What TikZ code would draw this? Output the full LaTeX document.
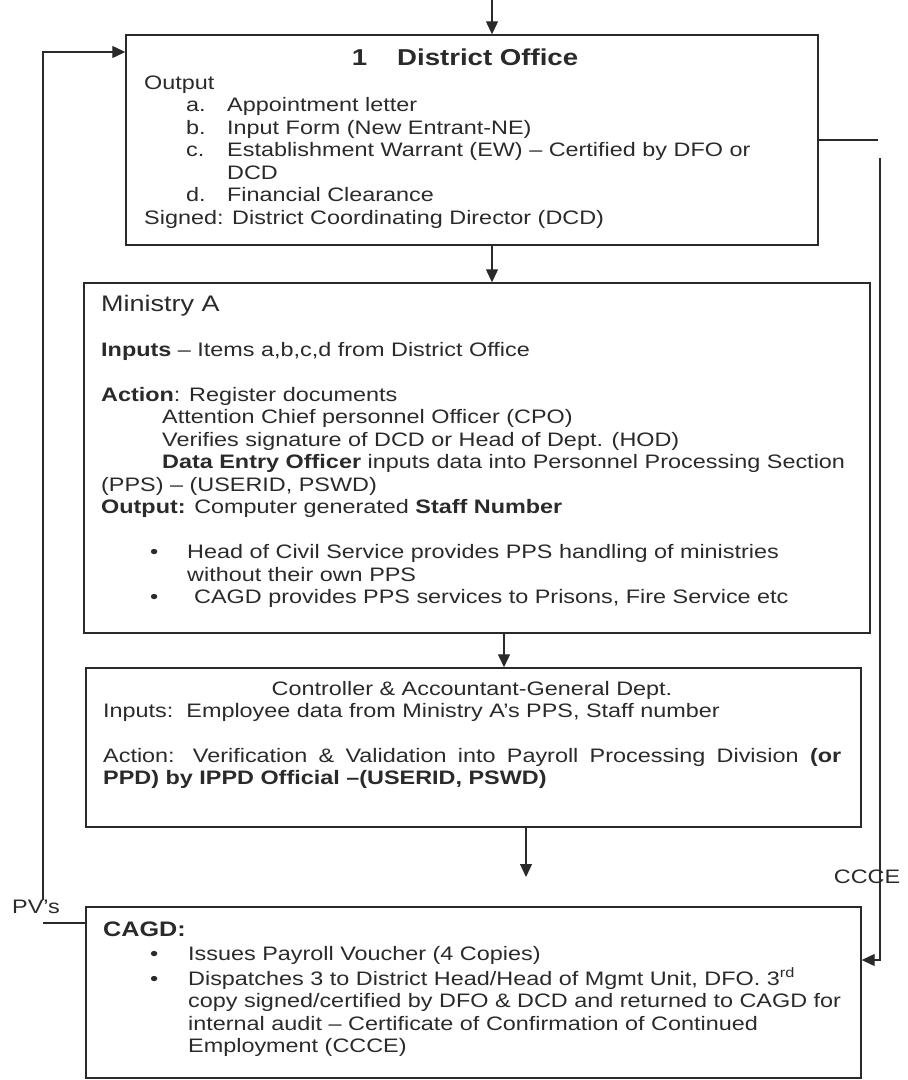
\documentclass[tikz,border=0pt]{standalone}
\usepackage{fontspec}
\setmainfont{Liberation Sans}[FakeStretch=1.2]
\usetikzlibrary{arrows.meta}
\definecolor{ink}{HTML}{2A2A2A}
\newcommand\myitem[2]{\hspace*{42pt}\makebox[41pt][l]{#1}#2}
\newcommand\minbul{\hspace*{49pt}\makebox[37pt][l]{•}}
\newcommand\cgbul{\hspace*{47pt}\makebox[38pt][l]{•}}
\begin{document}
\begin{tikzpicture}[x=1pt,y=-1pt,
  box/.style={draw=ink, line width=1.4pt, rectangle, inner sep=0pt},
  txt/.style={inner sep=0pt, anchor=base west, text=ink, font=\fontsize{19.5}{22.5}\selectfont},
  conn/.style={draw=ink, line width=1.2pt},
  arr/.style={conn, -{Triangle[length=13pt,width=12pt]}}]
\useasboundingbox (0,0) rectangle (908,1080);
% boxes
\node[box, minimum width=692pt, minimum height=210pt] (do) at (472,140) {};
\node[box, minimum width=786pt, minimum height=350pt] (min) at (477,458) {};
\node[box, minimum width=775pt, minimum height=159pt] (cc) at (473.5,747.5) {};
\node[box, minimum width=775pt, minimum height=171pt] (cg) at (473.5,992.5) {};
% box 1 text
\node[txt, anchor=base, font=\bfseries\fontsize{23}{26}\selectfont] (dot) at (465,65) {1\hspace{30pt}District Office};
\node[txt] (dob) at (144,89) {\parbox[t]{660pt}{Output\\
\myitem{a.}{Appointment letter}\\
\myitem{b.}{Input Form (New Entrant-NE)}\\
\myitem{c.}{Establishment Warrant (EW) – Certified by DFO or}\\
\hspace*{83pt}DCD\\
\myitem{d.}{Financial Clearance}\\
Signed: District Coordinating Director (DCD)}};
% ministry text
\node[txt, font=\fontsize{22.5}{26}\selectfont] (mint) at (101,311) {Ministry A};
\node[txt] (minb) at (101,356) {\parbox[t]{765pt}{\textbf{Inputs} – Items a,b,c,d from District Office\\[22.5pt]
\textbf{Action}: Register documents\\
\hspace*{61pt}Attention Chief personnel Officer (CPO)\\
\hspace*{61pt}Verifies signature of DCD or Head of Dept. (HOD)\\
\hspace*{61pt}\textbf{Data Entry Officer} inputs data into Personnel Processing Section\\
(PPS) – (USERID, PSWD)\\
\textbf{Output:} Computer generated \textbf{Staff Number}\\[22.5pt]
\minbul Head of Civil Service provides PPS handling of ministries\\
\hspace*{86pt}without their own PPS\\
\minbul\hspace{7pt}CAGD provides PPS services to Prisons, Fire Service etc}};
% CAG dept text
\node[txt, anchor=base] (cct) at (472,695) {Controller \& Accountant-General Dept.};
\node[txt] (ccb) at (103,717) {\parbox[t]{745pt}{Inputs:\ \ Employee data from Ministry A's PPS, Staff number\\[22.5pt]
\makebox[738pt][s]{Action: Verification \& Validation into Payroll Processing Division \textbf{(or}}\\
\textbf{PPD) by IPPD Official –(USERID, PSWD)}}};
% CAGD text
\node[txt, font=\bfseries\fontsize{21}{24}\selectfont] (cgt) at (103,936) {CAGD:};
\node[txt] (cgb) at (103,960) {\parbox[t]{745pt}{\cgbul Issues Payroll Voucher (4 Copies)\\[2.5pt]
\cgbul Dispatches 3 to District Head/Head of Mgmt Unit, DFO. 3\textsuperscript{rd}\\
\hspace*{85pt}copy signed/certified by DFO \& DCD and returned to CAGD for\\
\hspace*{85pt}internal audit – Certificate of Confirmation of Continued\\
\hspace*{85pt}Employment (CCCE)}};
% labels
\node[txt, anchor=center] (pv) at (36,907) {PV's};
\node[txt, anchor=center] (ccce) at (867,877) {CCCE};
% coordinates
\coordinate (topin) at (492,0);
\coordinate (free) at (526,877);
\coordinate (L0) at (43,923);
\coordinate (L1) at (43,900);
\coordinate (L2) at (43,52);
\coordinate (R0) at (878,140);
\coordinate (R1) at (880,158);
\coordinate (R2) at (880,960);
% connectors
\draw[arr] (topin) -- (topin |- do.north);
\draw[arr] ([xshift=20pt]do.south) -- ([xshift=15pt]min.north);
\draw[arr] ([xshift=27pt]min.south) -- ([xshift=27pt]min.south |- cc.north);
\draw[arr] (free |- cc.south) -- (free);
\draw[conn] (L0 -| cg.west) -- (L0);
\draw[arr] (L1) -- (L2) -- (L2 -| do.west);
\draw[conn] (R0 -| do.east) -- (R0);
\draw[arr] (R1) -- (R2) -- (R2 -| cg.east);
\end{tikzpicture}
\end{document}
